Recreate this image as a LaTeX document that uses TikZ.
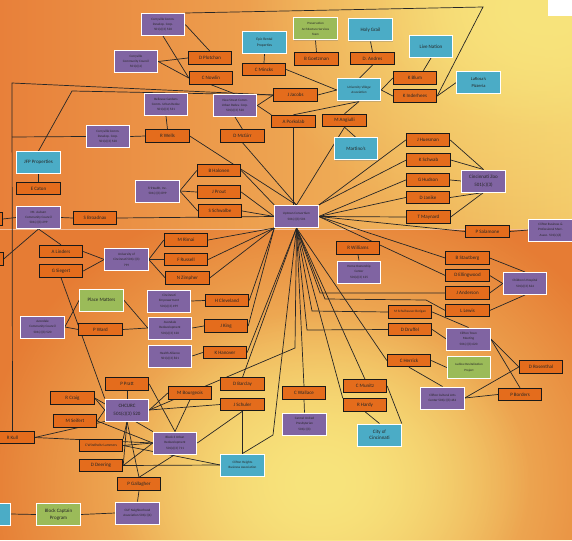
\documentclass[tikz,border=0pt]{standalone}
\usepackage{fontspec}
\setmainfont{Carlito}
\usetikzlibrary{shadows,fadings}
\definecolor{orB}{HTML}{E46C1C}
\definecolor{puB}{HTML}{8064A2}
\definecolor{cyB}{HTML}{4BACC6}
\definecolor{grB}{HTML}{9BBB59}
\definecolor{bgO}{HTML}{E8803A}
\definecolor{bgO2}{HTML}{E67C34}
\definecolor{bgR}{HTML}{F3C868}
\definecolor{bgY}{HTML}{F8E47C}
\tikzfading[name=glowfade, inner color=transparent!0, outer color=transparent!100]
\pgfdeclarelayer{back}
\pgfdeclarelayer{lines}
\pgfsetlayers{back,lines,main}
\begin{document}
\begin{tikzpicture}[x=1pt,y=-1pt,
  box/.style={minimum width=43.5pt, minimum height=12.5pt, inner sep=0pt, align=center, text=black!85},
  ob/.style={box, draw=black!90, line width=0.9pt, fill=orB, font=\fontsize{5}{6}\selectfont},
  pb/.style={box, minimum height=22pt, draw=white, line width=1pt, fill=puB, font=\fontsize{3.3}{5.4}\selectfont, drop shadow={shadow xshift=0.7pt, shadow yshift=-0.7pt, opacity=0.35}},
  cb/.style={pb, fill=cyB, font=\fontsize{5}{6.5}\selectfont},
  gb/.style={pb, fill=grB, font=\fontsize{5}{6.5}\selectfont},
  ln/.style={draw=black!85, line width=0.7pt}]
\useasboundingbox (0,0) rectangle (572,540);
\begin{pgfonlayer}{back}
\begin{scope}
\clip (0,0) rectangle (572,229);
\shade[left color=bgO, right color=bgR] (0,0) rectangle (572,229);
\fill[bgY, path fading=glowfade] (545,5) ellipse (300 and 230);
\fill[bgY, path fading=glowfade] (540,10) ellipse (160 and 120);
\end{scope}
\begin{scope}
\clip (0,229) rectangle (572,540);
\fill[bgO2] (0,229) rectangle (572,540);
\fill[bgY, path fading=glowfade] (320,485) ellipse (340 and 300);
\fill[bgY, path fading=glowfade] (320,480) ellipse (210 and 170);
\end{scope}
\fill[white] (548,0) rectangle (572,16);
\draw[white, opacity=0.5, line width=0.6pt] (0,229) -- (572,229);
\end{pgfonlayer}

% ---------- nodes ----------
\node[pb] (ccdc1) at (163,24.5) {Corryville Comm.\\Develop. Corp.\\501(c)(3) 520};
\node[pb] (cccouncil) at (136,61.5) {Corryville\\Community Council\\501(c)(4)};
\node[pb] (ccdc2) at (108,136.5) {Corryville Comm.\\Develop. Corp.\\501(c)(3) 520};
\node[ob] (wells) at (167.5,136) {R Wells};
\node[cb] (jfp) at (38.5,162.5) {JFP Properties};
\node[ob] (plotchan) at (210,58) {D Plotchan};
\node[ob] (nowlin) at (211,78) {C Nowlin};
\node[cb,font=\fontsize{3.6}{5.6}\selectfont] (epic) at (264.5,42.5) {Epic Rental\\Properties};
\node[ob] (mincks) at (264,69.5) {C Mincks};
\node[pb] (viewst) at (235,105.5) {View Street Comm.\\Urban Redev. Corp.\\501(c)(3) 520};
\node[pb] (bellevue) at (166,104.5) {Bellevue Gardens\\Comm. Urban Redev.\\501(c)(3) 531};
\node[ob] (mcgirr) at (242.5,136) {D McGirr};
\node[ob] (halonen) at (219,170.5) {B Halonen};
\node[ob] (porkolab) at (293.5,121.5) {A Porkolab};
\node[ob] (jacobs) at (295.5,95) {J Jacobs};
\node[gb,font=\fontsize{3.2}{5.2}\selectfont] (pres) at (315.5,29) {Preservation\\Architecture Services\\Team};
\node[cb] (holy) at (370.5,30) {Holy Grail};
\node[ob] (goetzman) at (316.5,59) {B Goetzman};
\node[ob] (andres) at (372.5,58.5) {D. Andres};
\node[cb] (livenation) at (431,46.5) {Live Nation};
\node[cb,font=\itshape\fontsize{3.3}{5.4}\selectfont] (uva) at (359,90) {University Village\\Association};
\node[ob] (blum) at (415,78) {K Blum};
\node[ob] (inderhees) at (415,96) {K Inderhees};
\node[cb,font=\fontsize{4.5}{7}\selectfont] (larosa) at (478.5,82.5) {LaRosa's\\Pizzeria};
\node[ob] (angiulli) at (344.5,120.5) {M Angiulli};
\node[cb] (martinos) at (356,149) {Martino's};
\node[ob] (huesman) at (428,140) {J Huesman};
\node[ob] (schwab) at (428.5,160) {K Schwab};
\node[ob] (hudson) at (428,180) {G Hudson};
\node[pb,font=\fontsize{5}{7.5}\selectfont] (zoo) at (483.5,181) {Cincinnati Zoo\\501(c)(3)};
\node[ob] (caton) at (38.5,188.5) {E Caton};
\node[pb] (mtauburn) at (38.5,217.5) {Mt. Auburn\\Community Council\\501(c)(3) 299};
\node[ob] (broadnax) at (95,218) {S Broadnax};
\node[ob] (leftA) at (-19.5,219) {};
\node[ob] (leftB) at (-18.5,259) {};
\node[ob] (linders) at (61,251.5) {A Linders};
\node[ob] (siegert) at (61,271) {G Siegert};
\node[pb] (uc) at (126.5,259.5) {University of\\Cincinnati 501(c)(3)\\799};
\node[gb] (place) at (101.5,300) {Place Matters};
\node[pb] (avcc) at (42.5,327) {Avondale\\Community Council\\501(c)(3) 520};
\node[ob] (ward) at (100.5,329.5) {P Ward};
\node[pb] (trihealth) at (157.5,191) {TriHealth, Inc.\\501(c)(3) 899};
\node[ob] (prout) at (219,192) {J Prout};
\node[ob] (schwalbe) at (220,211) {S Schwalbe};
\node[pb] (uptown) at (296.5,216.5) {Uptown Consortium\\501(c)(3) 501};
\node[ob] (rimai) at (186,240) {M Rimai};
\node[ob] (russell) at (186,259.5) {F Russell};
\node[ob] (zimpher) at (187.5,278) {N Zimpher};
\node[pb] (empower) at (169,301) {Cincinnati\\Empowerment\\501(c)(3) 499};
\node[ob] (cleveland) at (227,300.5) {H Cleveland};
\node[pb] (avredev) at (170,328) {Avondale\\Redevelopment\\501(c)(3) 120};
\node[ob] (king) at (226,326) {J King};
\node[pb] (health) at (170,356) {Health Alliance\\501(c)(3) 821};
\node[ob] (hanover) at (225,352.5) {K Hanover};
\node[ob] (williams) at (358,248) {R Williams};
\node[pb] (homeown) at (359,272) {Home Ownership\\Center\\501(c)(3) 125};
\node[ob,font=\fontsize{3.4}{5}\selectfont] (schuh) at (410,312) {M Schulhauser-Berigan};
\node[ob] (druffel) at (410,329.5) {D Druffel};
\node[ob] (herrick) at (409,360.5) {C Herrick};
\node[ob] (janike) at (428,197.5) {D Janike};
\node[ob] (maynard) at (428.5,217) {T Maynard};
\node[ob] (salamone) at (487.5,231.5) {P Salamone};
\node[pb] (cbpma) at (550.5,230) {Clifton Business \&\\Professional Merc.\\Assoc. 501(c)(6)};
\node[ob] (stautberg) at (467.5,258) {B Stautberg};
\node[ob] (ellingwood) at (467.5,275.5) {D Ellingwood};
\node[pb] (childrens) at (525,283.5) {Children's Hospital\\501(c)(3) 624};
\node[ob] (anderson) at (467.5,293) {J Anderson};
\node[ob] (lewis) at (467.5,310.5) {L Lewis};
\node[pb] (ctm) at (468.5,339) {Clifton Town\\Meeting\\501(c)(3) 620};
\node[gb,font=\fontsize{3.2}{5.4}\selectfont] (ludlow) at (469,367.5) {Ludlow Revitalization\\Project};
\node[ob] (rosenthal) at (541,367) {D Rosenthal};
\node[ob] (borders) at (520,394.5) {P Borders};
\node[pb] (ccac) at (442.5,398) {Clifton Cultural Arts\\Center 501(c)(3) 461};
\node[ob] (pratt) at (127,384) {P Pratt};
\node[ob] (craig) at (72.5,398) {R Craig};
\node[pb,font=\fontsize{5}{7.5}\selectfont] (chcurc) at (127,410) {CHCURC\\501(c)(3) 520};
\node[ob] (seifert) at (75,421) {M Seifert};
\node[ob] (kull) at (12.5,437.5) {R Kull};
\node[ob,font=\fontsize{3.6}{5}\selectfont] (windholtz) at (101,445.5) {C Windholtz Lammers};
\node[ob] (deering) at (101,465.5) {D Deering};
\node[ob] (gallagher) at (139,484) {P Gallagher};
\node[pb] (cuf) at (137.5,513) {CUF Neighborhood\\Association 501(c)(4)};
\node[gb] (block) at (58.5,514.5) {Block Captain\\Program};
\node[cb] (leftC) at (-11.5,514) {};
\node[ob] (bourgeois) at (190,393) {M Bourgeois};
\node[ob] (barclay) at (242.5,384) {D Barclay};
\node[ob] (schuler) at (242.5,404.5) {J Schuler};
\node[pb] (block3) at (175,443) {Block 3 Urban\\Redevelopment\\501(c)(3) 711};
\node[cb,font=\fontsize{3.3}{5.4}\selectfont] (chba) at (242.5,465) {Clifton Heights\\Business Association};
\node[ob] (wallace) at (304,393) {C Wallace};
\node[pb] (carmel) at (304.5,424) {Carmel United\\Presbyterian\\501(c)(3)};
\node[ob] (munitz) at (365,386) {C Munitz};
\node[ob] (hardy) at (365,405) {R Hardy};
\node[cb] (city) at (379.5,435) {City of\\Cincinnati};

\coordinate (k1) at (483,7);
\coordinate (k2) at (12,83);
\coordinate (k3) at (12,137);
\coordinate (k4) at (72,91);
\coordinate (k5) at (320,293);
\coordinate (k6) at (325,299);
\coordinate (k7) at (426,300);
\coordinate (k8) at (312,311);
\coordinate (k9) at (307,330);
\coordinate (k10) at (295,348);
\coordinate (k11) at (273,435);

% ---------- connectors ----------
\begin{pgfonlayer}{lines}
\path[ln] (ccdc1.east) -- (plotchan.north);
\path[ln] (ccdc1.south) -- (nowlin.west);
\path[ln] (ccdc1.north east) -- (k1) -- (inderhees.east);
\path[ln] (cccouncil.east) -- (plotchan.west);
\path[ln] (cccouncil.east) -- (nowlin.west);
\path[ln] (nowlin.south) -- (viewst.north);
\path[ln] (epic.south) -- (mincks.north);
\path[ln] (mincks.east) -- (uva.west);
\path[ln] (viewst.east) -- (jacobs.west);
\path[ln] (viewst.east) -- (porkolab.north west);
\path[ln] (viewst.south) -- (mcgirr.north);
\path[ln] (bellevue.south) -- (wells.north);
\path[ln] (ccdc2.east) -- (wells.west);
\path[ln] (ccdc2.west) -- (k3);
\path[ln] (jacobs.west) -- (k2) -- (kull.north);
\path[ln] (jfp.north) -- (k4) -- (jacobs.west);
\path[ln] (jacobs.east) -- (uva.west);
\path[ln] (pres.south) -- (goetzman.north);
\path[ln] (holy.south) -- (andres.north);
\path[ln] (andres.south) -- (uva.north);
\path[ln] (uva.east) -- (blum.west);
\path[ln] (uva.east) -- (inderhees.west);
\path[ln] (livenation.south) -- ([xshift=8pt]blum.north);
\path[ln] (larosa.west) -- (inderhees.east);
\path[ln] (uva.south) -- (porkolab.north);
\path[ln] (uva.south) -- (angiulli.north);
\path[ln] (angiulli.south) -- (martinos.north);
\path[ln] (porkolab.south) -- (porkolab.south |- uptown.north);
\path[ln] (angiulli.south) -- (uptown.north);
\path[ln] (wells.east) -- (uptown.north);
\path[ln] (mcgirr.south) -- (uptown.north);
\path[ln] (halonen.east) -- (uptown.north west);
\path[ln] (huesman.east) -- (zoo.north);
\path[ln] (schwab.east) -- (zoo.north);
\path[ln] (hudson.east) -- (zoo.west);
\path[ln] (huesman.west) -- (uptown.north east);
\path[ln] (schwab.west) -- (uptown.north east);
\path[ln] (hudson.west) -- (uptown.east);
\path[ln] (janike.east) -- (zoo.south);
\path[ln] (maynard.east) -- (zoo.south);
\path[ln] (janike.west) -- (uptown.east);
\path[ln] (maynard.west) -- (uptown.east);
\path[ln] (jfp.south) -- (caton.north);
\path[ln] (mtauburn.west) -- (leftA.east);
\path[ln] (mtauburn.east) -- (broadnax.west);
\path[ln] (broadnax.east) -- (uptown.west);
\path[ln] (mtauburn.south) -- (linders.north);
\path[ln] (mtauburn.south) -- (leftB.east);
\path[ln] (linders.east) -- (uc.west);
\path[ln] (siegert.east) -- (uc.west);
\path[ln] (uc.east) -- (rimai.west);
\path[ln] (uc.east) -- (russell.west);
\path[ln] (uc.east) -- (zimpher.west);
\path[ln] (rimai.east) -- (uptown.south west);
\path[ln] (russell.east) -- (uptown.south west);
\path[ln] (zimpher.east) -- (uptown.south west);
\path[ln] (trihealth.east) -- (halonen.west);
\path[ln] (trihealth.east) -- (prout.west);
\path[ln] (trihealth.east) -- (schwalbe.west);
\path[ln] (prout.east) -- (uptown.west);
\path[ln] (schwalbe.east) -- (uptown.west);
\path[ln] (empower.east) -- (cleveland.west);
\path[ln] (cleveland.east) -- (uptown.south west);
\path[ln] (avredev.east) -- (king.west);
\path[ln] (king.east) -- (uptown.south west);
\path[ln] (health.east) -- (hanover.west);
\path[ln] (hanover.east) -- (uptown.south);
\path[ln] (avcc.east) -- (place.west);
\path[ln] (avcc.east) -- (ward.west);
\path[ln] (place.east) -- (avredev.west);
\path[ln] (ward.east) -- (avredev.west);
\path[ln] (siegert.south) -- (chcurc.north west);
\path[ln] (williams.south) -- (homeown.north);
\path[ln] (uptown.east) -- (salamone.west);
\path[ln] (salamone.east) -- (cbpma.west);
\path[ln] (uptown.east) -- (stautberg.west);
\path[ln] (uptown.east) -- (ellingwood.west);
\path[ln] (stautberg.east) -- (childrens.north);
\path[ln] (ellingwood.east) -- (childrens.west);
\path[ln] (anderson.east) -- (childrens.west);
\path[ln] (lewis.east) -- (childrens.south);
\path[ln] (uptown.south) -- (k5) -- (anderson.west);
\path[ln] (uptown.south) -- (k6) -- (k7) -- (lewis.west);
\path[ln] (uptown.south) -- (k8) -- (schuh.west);
\path[ln] (uptown.south) -- (k9) -- (druffel.west);
\path[ln] (uptown.south) -- (herrick.west);
\path[ln] (herrick.east) -- (ludlow.west);
\path[ln] (herrick.south) -- (ccac.north);
\path[ln] (schuh.east) -- (ctm.north);
\path[ln] (druffel.east) -- (ctm.west);
\path[ln] (ctm.east) -- (rosenthal.west);
\path[ln] (ctm.east) -- (borders.north);
\path[ln] (ccac.east) -- (rosenthal.west);
\path[ln] (ccac.east) -- (borders.west);
\path[ln] (uptown.south) -- (wallace.north);
\path[ln] (uptown.south) -- (hardy.north west);
\path[ln] (uptown.south) -- (munitz.north);
\path[ln] (uptown.south) -- (barclay.north);
\path[ln] (wallace.south) -- (carmel.north);
\path[ln] (munitz.east) -- (city.north east);
\path[ln] (hardy.south) -- (city.north);
\path[ln] (uptown.south) -- (k10) -- (chcurc.east);
\path[ln] (uptown.south) -- (k11) -- (chba.north);
\path[ln] (schuler.south) -- (chba.north);
\path[ln] (chcurc.east) -- (schuler.west);
\path[ln] (chcurc.east) -- (bourgeois.west);
\path[ln] (bourgeois.south) -- (block3.north);
\path[ln] (pratt.east) -- (block3.north);
\path[ln] (block3.east) -- (schuler.south);
\path[ln] (pratt.south) -- (chcurc.north);
\path[ln] (craig.east) -- (chcurc.west);
\path[ln] (craig.east) -- (block3.north west);
\path[ln] (seifert.east) -- (chcurc.west);
\path[ln] (seifert.east) -- (block3.west);
\path[ln] (kull.east) -- (chcurc.south west);
\path[ln] (kull.east) -- (block3.west);
\path[ln] (chcurc.south) -- (windholtz.north east);
\path[ln] (chcurc.south) -- (deering.east);
\path[ln] (chcurc.south) -- (gallagher.north);
\path[ln] (windholtz.east) -- (block3.west);
\path[ln] (deering.east) -- (block3.west);
\path[ln] (windholtz.east) -- (chba.west);
\path[ln] (deering.east) -- (chba.west);
\path[ln] (gallagher.north) -- (block3.south);
\path[ln] (gallagher.south) -- (cuf.north);
\path[ln] (block.east) -- (cuf.west);
\path[ln] (leftC.east) -- (block.west);
\end{pgfonlayer}
\end{tikzpicture}
\end{document}
